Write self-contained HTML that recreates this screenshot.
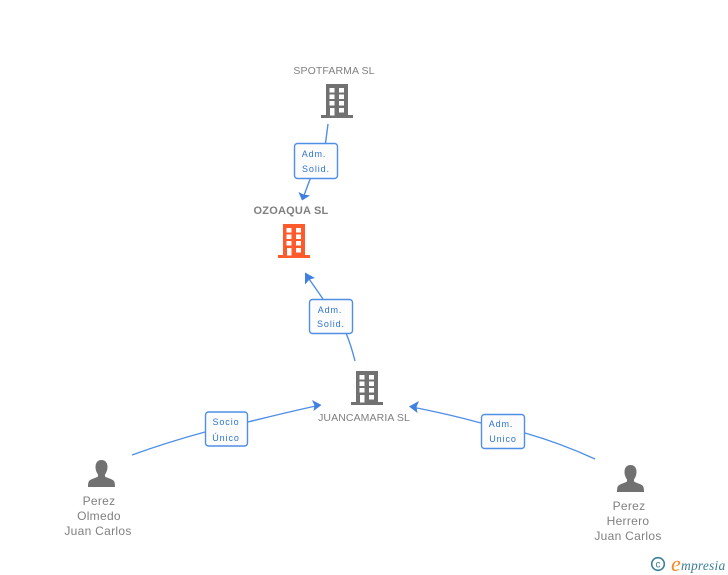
<!DOCTYPE html>
<html>
<head>
<meta charset="utf-8">
<style>
html,body{margin:0;padding:0;background:#fff}
body{width:728px;height:575px;overflow:hidden;position:relative}
svg{position:absolute;left:0;top:0}
text{font-family:"Liberation Sans",sans-serif}
.n{fill:#808080;font-size:10.5px;letter-spacing:.1px;text-anchor:middle}
.p{fill:#808080;font-size:12px;letter-spacing:.3px;text-anchor:middle}
.l{fill:#2f74d0;font-size:9px;letter-spacing:.9px;text-anchor:middle}
.b{fill:#fcfcfc;stroke:#4f8fe6;stroke-width:1.4}
.c{fill:none;stroke:#4f8fe6;stroke-width:1.4}
.a{fill:#3f80e0}
</style>
</head>
<body>
<svg width="728" height="575" viewBox="0 0 728 575" xmlns="http://www.w3.org/2000/svg">
<defs>
<symbol id="bld" width="32" height="34" viewBox="0 0 32 34">
<path fill-rule="evenodd" fill="currentColor" d="M5 0H27V31H32V34H0V31H5Z
M8.500 4V8.500H13.500V4Z M18 4V8.500H23V4Z
M8.500 10.500V15H13.500V10.500Z M18 10.500V15H23V10.500Z
M8.500 17V21.500H13.500V17Z M18 17V21.500H23V17Z
M9 24V31.500H13.500V24Z M18 24V28.500H23V24Z"/>
</symbol>
<symbol id="per" width="27" height="27" viewBox="0 0 27 27">
<path fill="#717171" d="M13.500 0C17.500 0 19.500 3 19.500 7C19.500 10.500 18 13 17 14.500V16.500C19 18 23 18.500 25.500 20.500C26.700 21.500 27 24 27 27H0C0 24 .3 21.500 1.500 20.500C4 18.500 8 18 10 16.500V14.500C9 13 7.500 10.500 7.500 7C7.500 3 9.500 0 13.500 0Z"/>
</symbol>
</defs>

<path class="c" d="M328 124L325.500 143"/>
<path class="c" d="M310.500 178L303 198"/>
<path class="a" d="M302 200.500L298.500 192L303.500 194.500L310 195.500Z"/>

<path class="c" d="M323 299L307 276"/>
<path class="a" d="M305 272.500L315 278L309.500 279.500L305 284.500Z"/>
<path class="c" d="M346 333Q351 345 355 361"/>

<path class="c" d="M132 455Q168 442 205 432"/>
<path class="c" d="M248 422Q284 413 318 405.500"/>
<path class="a" d="M321.500 405L312 400L314.500 405.500L313.500 411Z"/>

<path class="c" d="M595 459Q560 443 525 433"/>
<path class="c" d="M481 423Q448 414 412 407"/>
<path class="a" d="M409 406.500L419 401L416.500 407L417.500 413Z"/>

<rect class="b" x="294.500" y="143.500" width="43" height="35" rx="3"/>
<text class="l" x="314" y="157">Adm.</text>
<text class="l" x="316" y="172">Solid.</text>

<rect class="b" x="309.500" y="299.500" width="43" height="34" rx="3"/>
<text class="l" x="330" y="313">Adm.</text>
<text class="l" x="331" y="327">Solid.</text>

<rect class="b" x="205.500" y="412" width="42" height="34" rx="3"/>
<text class="l" x="226" y="425">Socio</text>
<text class="l" x="226" y="441">Único</text>

<rect class="b" x="481.500" y="414.500" width="43" height="34" rx="3"/>
<text class="l" x="501" y="427">Adm.</text>
<text class="l" x="503" y="442">Unico</text>

<use href="#bld" x="321" y="84" style="color:#717171"/>
<use href="#bld" x="278" y="224" style="color:#ff5a2c"/>
<use href="#bld" x="351" y="371" style="color:#717171"/>

<use href="#per" x="88" y="460"/>
<use href="#per" x="617" y="465"/>

<text class="n" x="334" y="74">SPOTFARMA SL</text>
<text class="n" x="291" y="214" style="font-weight:bold;font-size:11px;letter-spacing:.2px">OZOAQUA SL</text>
<text class="n" x="364" y="421">JUANCAMARIA SL</text>

<text class="p" x="99" y="505">Perez</text>
<text class="p" x="99" y="520">Olmedo</text>
<text class="p" x="98" y="535">Juan Carlos</text>

<text class="p" x="629" y="510">Perez</text>
<text class="p" x="628" y="525">Herrero</text>
<text class="p" x="628" y="540">Juan Carlos</text>

<circle cx="658" cy="564" r="6.300" fill="none" stroke="#3d7f97" stroke-width="1.600"/>
<text x="658" y="567.500" style="font-size:10px;fill:#3d7f97;text-anchor:middle">c</text>
<text x="671" y="571" style="font-family:'Liberation Serif',serif;font-style:italic;font-size:22px;fill:#f08a24">e</text>
<text x="681" y="570" style="font-family:'Liberation Serif',serif;font-style:italic;font-size:13.500px;letter-spacing:.2px;fill:#3d7f97">mpresia</text>
</svg>
</body>
</html>
